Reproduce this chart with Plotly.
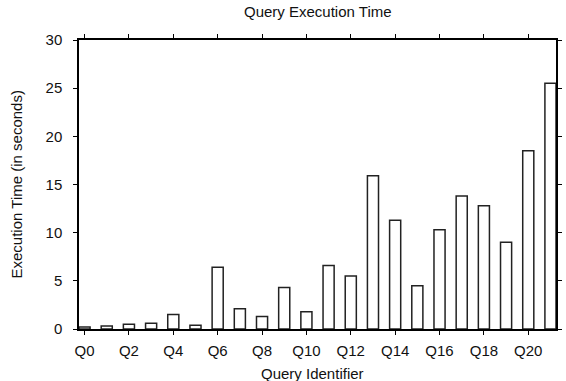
import plotly.graph_objects as go

# Query execution times (seconds) per query identifier
queries = [f"Q{i}" for i in range(22)]
exec_times = [0.2, 0.3, 0.5, 0.6, 1.5, 0.4, 6.4, 2.1, 1.3, 4.3, 1.8,
              6.6, 5.5, 15.9, 11.3, 4.5, 10.3, 13.8, 12.8, 9.0, 18.5, 25.5]
x_tick_labels = queries[::2]
y_tick_values = [0, 5, 10, 15, 20, 25, 30]

FONT = "Liberation Sans, Arial, sans-serif"
FS = 15

fig = go.Figure(
    go.Bar(
        x=queries,
        y=exec_times,
        width=0.5,
        marker=dict(color="white", line=dict(color="#222222", width=1.5)),
        showlegend=False,
    )
)

axis_common = dict(
    showline=True,
    linecolor="black",
    linewidth=1.5,
    mirror="allticks",
    ticks="outside",
    ticklen=4,
    tickwidth=1,
    tickcolor="black",
    showgrid=False,
    zeroline=False,
    tickfont=dict(family=FONT, size=FS, color="#111111"),
)

fig.update_xaxes(
    type="category",
    range=[-0.25, 21.25],
    tickmode="array",
    tickvals=x_tick_labels,
    ticktext=x_tick_labels,
    ticklabelstandoff=3,
    **axis_common,
)
fig.update_yaxes(
    range=[0, 30],
    tickmode="array",
    tickvals=y_tick_values,
    ticklabelstandoff=8,
    **axis_common,
)

fig.update_layout(
    width=566,
    height=381,
    margin=dict(l=79, r=4, t=40, b=52),
    paper_bgcolor="white",
    plot_bgcolor="white",
    font=dict(family=FONT, size=FS, color="#111111"),
    annotations=[
        dict(text="Query Execution Time", xref="paper", yref="paper",
             x=0.5, y=1, yshift=29, showarrow=False,
             xanchor="center", yanchor="middle",
             font=dict(family=FONT, size=FS, color="#111111")),
        dict(text="Query Identifier", xref="paper", yref="paper",
             x=0.49, y=0, yshift=-44, showarrow=False,
             xanchor="center", yanchor="middle",
             font=dict(family=FONT, size=FS, color="#111111")),
        dict(text="Execution Time (in seconds)", xref="paper", yref="paper",
             x=0, xshift=-63, y=0.5, showarrow=False, textangle=-90,
             xanchor="center", yanchor="middle",
             font=dict(family=FONT, size=FS, color="#111111")),
    ],
)

fig.write_html("out.html")
